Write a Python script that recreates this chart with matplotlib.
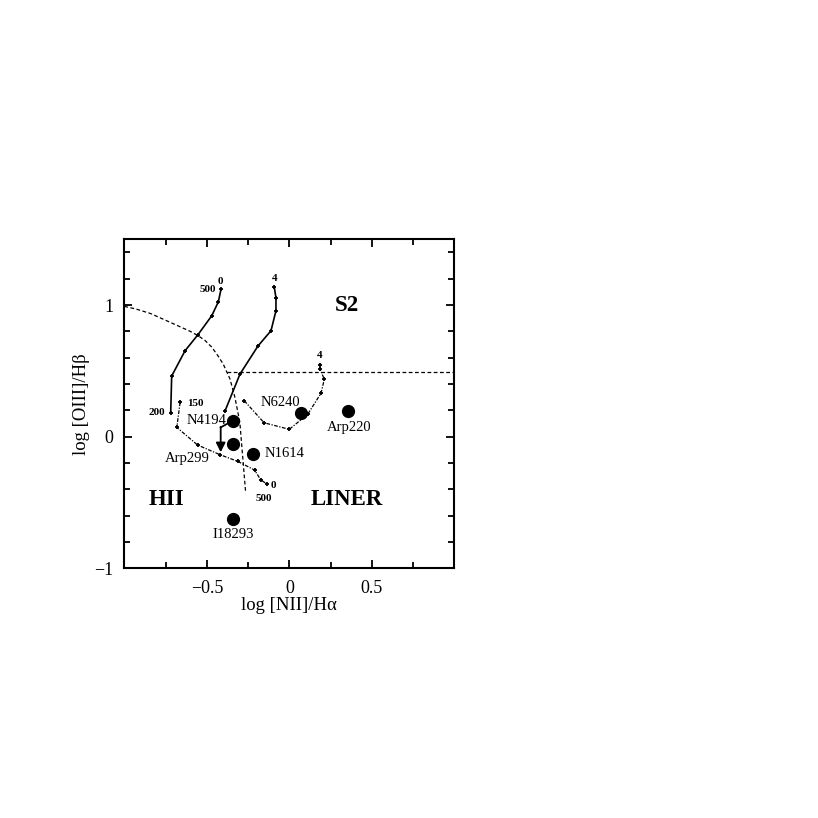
import numpy as np
import matplotlib
matplotlib.use("Agg")
import matplotlib.pyplot as plt
from matplotlib.ticker import MultipleLocator, FixedLocator

plt.rcParams["font.family"] = ["Liberation Serif", "DejaVu Serif"]

# model tracks (log [NII]/Ha, log [OIII]/Hb)
track_a_x = [-0.414, -0.430, -0.470, -0.553, -0.632, -0.713, -0.719]
track_a_y = [1.121, 1.025, 0.919, 0.776, 0.653, 0.461, 0.182]

track_b_x = [-0.662, -0.682, -0.556, -0.423, -0.311, -0.211, -0.172, -0.135]
track_b_y = [0.261, 0.071, -0.063, -0.135, -0.188, -0.253, -0.329, -0.359]

track_c_x = [-0.091, -0.081, -0.081, -0.111, -0.190, -0.299, -0.390]
track_c_y = [1.134, 1.055, 0.957, 0.805, 0.689, 0.476, 0.195]

track_d_x = [-0.273, -0.153, 0.000, 0.112, 0.192, 0.212, 0.186, 0.186]
track_d_y = [0.273, 0.106, 0.056, 0.172, 0.330, 0.436, 0.514, 0.544]

# classification boundaries
border_x = [-1.0, -0.93, -0.84, -0.76, -0.68, -0.60, -0.55, -0.51, -0.47,
            -0.43, -0.40, -0.38, -0.36, -0.33, -0.30, -0.265]
border_y = [0.99, 0.97, 0.935, 0.89, 0.845, 0.80, 0.765, 0.73, 0.68,
            0.61, 0.55, 0.494, 0.44, 0.30, 0.11, -0.42]
seyfert_x = [-0.38, 1.0]
seyfert_y = [0.494, 0.494]

# galaxies
gal_names = ["N4194", "", "N1614", "I18293", "N6240", "Arp220"]
gal_x = [-0.343, -0.343, -0.222, -0.339, 0.069, 0.358]
gal_y = [0.121, -0.058, -0.131, -0.627, 0.182, 0.195]


def bpt(save_file: str = "out.png") -> None:
    fig = plt.figure(figsize=(8.18, 8.18), dpi=100)
    ax = fig.add_axes([0.152, 0.3051, 0.4034, 0.4025])

    ax.plot(border_x, border_y, color="black", lw=0.9, dashes=(3, 2))
    ax.plot(seyfert_x, seyfert_y, color="black", lw=0.9, dashes=(3, 2))

    mk = dict(marker="+", ms=3.5, mew=1.3)
    ax.plot(track_a_x, track_a_y, color="black", lw=1.2, **mk)
    ax.plot(track_b_x, track_b_y, color="black", lw=0.9,
            dashes=(3, 1.2, 1, 1.2), **mk)
    ax.plot(track_c_x, track_c_y, color="black", lw=1.2, **mk)
    ax.plot(track_d_x, track_d_y, color="black", lw=0.9,
            dashes=(3, 1.2, 1, 1.2), **mk)

    ax.plot(gal_x, gal_y, "o", color="black", ms=8.5, zorder=5)

    # shift of N4194
    ax.plot([gal_x[0], -0.416], [gal_y[0], 0.071], color="black", lw=1.3)
    ax.annotate("", xy=(-0.416, -0.118), xytext=(-0.416, 0.075),
                arrowprops=dict(arrowstyle="-|>", color="black", lw=1.3,
                                mutation_scale=14, shrinkA=0, shrinkB=0))

    small = dict(fontsize=10.5)
    ax.text(-0.378, 0.121, "N4194", ha="right", va="center", **small)
    ax.text(-0.620, -0.165, "Arp299", ha="center", va="center", **small)
    ax.text(-0.152, -0.131, "N1614", ha="left", va="center", **small)
    ax.text(-0.339, -0.743, "I18293", ha="center", va="center", **small)
    ax.text(-0.055, 0.263, "N6240", ha="center", va="center", **small)
    ax.text(0.362, 0.070, "Arp220", ha="center", va="center", **small)

    tiny = dict(fontsize=8, fontweight="bold")
    ax.text(-0.418, 1.178, "0", ha="center", va="center", **tiny)
    ax.text(-0.446, 1.117, "500", ha="right", va="center", **tiny)
    ax.text(-0.752, 0.187, "200", ha="right", va="center", **tiny)
    ax.text(-0.621, 0.249, "150", ha="left", va="center", **tiny)
    ax.text(-0.098, -0.370, "0", ha="center", va="center", **tiny)
    ax.text(-0.152, -0.468, "500", ha="center", va="center", **tiny)
    ax.text(-0.091, 1.198, "4", ha="center", va="center", **tiny)
    ax.text(0.182, 0.620, "4", ha="center", va="center", **tiny)

    big = dict(fontsize=16.5, fontweight="bold")
    ax.text(0.35, 1.00, "S2", ha="center", va="center", **big)
    ax.text(-0.743, -0.478, "HII", ha="center", va="center", **big)
    ax.text(0.35, -0.478, "LINER", ha="center", va="center", **big)

    ax.set_xlim(-1, 1)
    ax.set_ylim(-1, 1.5)
    ax.xaxis.set_major_locator(FixedLocator([-0.5, 0, 0.5]))
    ax.xaxis.set_minor_locator(MultipleLocator(0.25))
    ax.yaxis.set_major_locator(FixedLocator([-1, 0, 1]))
    ax.yaxis.set_minor_locator(MultipleLocator(0.2))
    ax.set_xticklabels(["\u22120.5", "0", "0.5"])
    ax.set_yticklabels(["\u22121", "0", "1"])
    ax.tick_params(which="both", direction="in", top=True, right=True,
                   width=1.3, labelsize=13)
    ax.tick_params(which="major", length=6, pad=8)
    ax.tick_params(which="minor", length=4)
    for spine in ax.spines.values():
        spine.set_linewidth(1.5)

    ax.set_xlabel("log [NII]/H\u03b1", fontsize=13.5, labelpad=0)
    ax.set_ylabel("log [OIII]/H\u03b2", fontsize=13.5, labelpad=3)

    fig.savefig(save_file, dpi=100)


bpt()
